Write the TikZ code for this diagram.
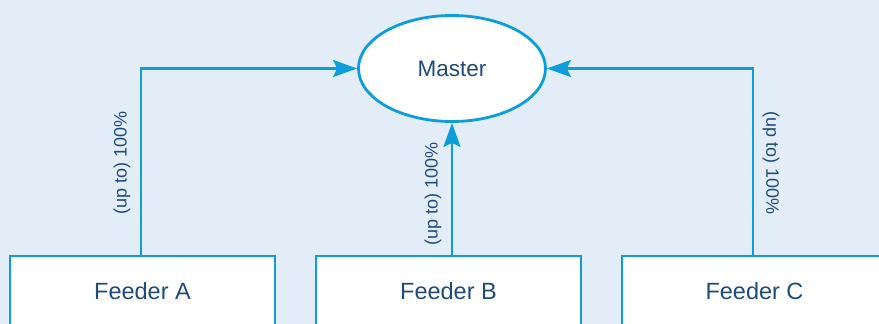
\documentclass[tikz,border=0pt]{standalone}
\usepackage{fontspec}
\setmainfont{Liberation Sans}
\usetikzlibrary{shapes.geometric,arrows.meta}
\definecolor{bgblue}{HTML}{E3EDF8}
\definecolor{linecol}{HTML}{0C9DDA}
\definecolor{textcol}{HTML}{1F4A7A}
\tikzset{
  box/.style={draw=linecol, line width=2.6pt, fill=white, rectangle, minimum width=265pt, minimum height=70pt, inner sep=0pt, text=textcol, font=\fontsize{23.5}{27}\selectfont},
  masterbox/.style={draw=linecol, line width=2.8pt, fill=white, ellipse, minimum width=187pt, minimum height=106pt, inner sep=0pt, text=textcol, font=\fontsize{22.5}{26}\selectfont},
  conn/.style={draw=linecol, line width=2.2pt, -{Stealth[length=24pt,width=17pt,inset=4pt]}},
  pct/.style={text=textcol, font=\fontsize{18}{22}\selectfont, inner sep=0pt}
}
\begin{document}
\begin{tikzpicture}[x=1pt,y=-1pt]
\useasboundingbox (0,0) rectangle (879,324);
\fill[bgblue] (0,0) rectangle (879,324);
\node[masterbox] (master) at (452,68.5) {Master};
\node[box] (fa) at (142.5,291) {Feeder A};
\node[box] (fb) at (448.5,291) {Feeder B};
\node[box] (fc) at (754.5,291) {Feeder C};
\coordinate (ta) at (141,256);
\coordinate (tb) at (452,256);
\coordinate (tc) at (753,256);
\draw[conn] (ta) |- (master.west);
\draw[conn] (tc) |- (master.east);
\draw[conn] (tb) -- (master.south -| tb);
\node[pct, rotate=90] (la) at (122,163) {(up to) 100\%};
\node[pct, rotate=90] (lb) at (433,194) {(up to) 100\%};
\node[pct, rotate=-90] (lc) at (771,163) {(up to) 100\%};
\end{tikzpicture}
\end{document}
